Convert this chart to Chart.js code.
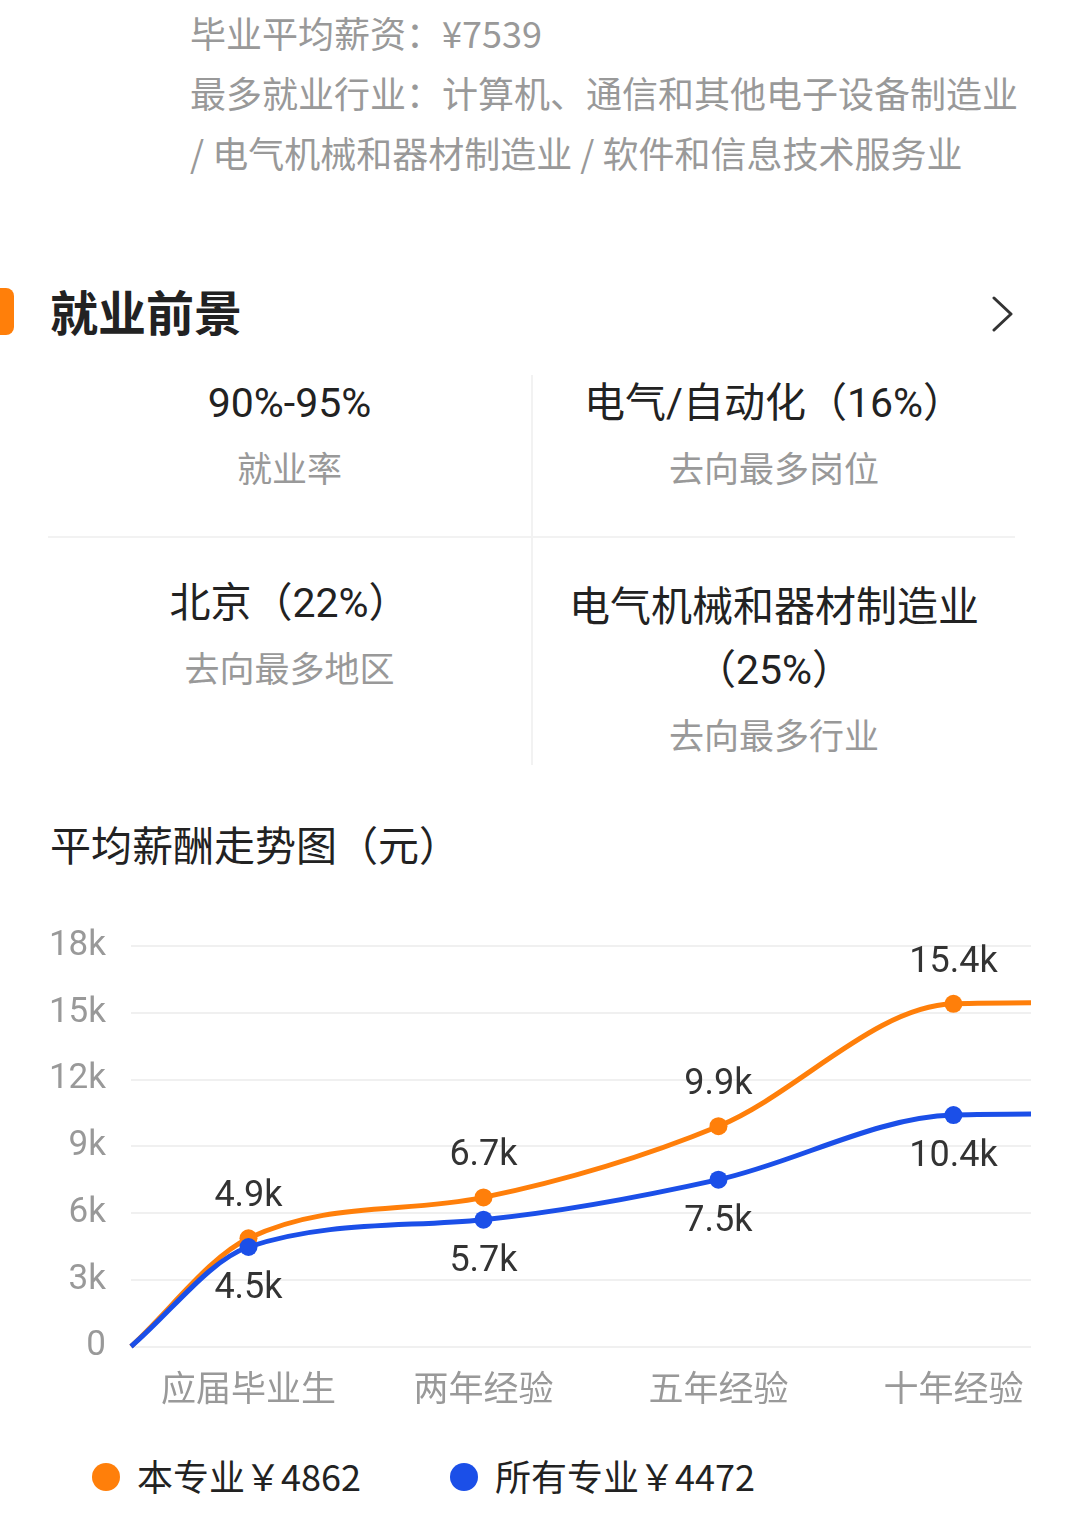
<!DOCTYPE html>
<html lang="zh-CN">
<head>
<meta charset="utf-8">
<script src="https://cdn.jsdelivr.net/npm/chart.js@4.4.1/dist/chart.umd.min.js"></script>
<style>
  html, body { margin: 0; padding: 0; background: #fff; }
  body { width: 1080px; height: 1528px; position: relative; overflow: hidden;
         font-family: "Noto Sans CJK SC", "Noto Sans", sans-serif; }
  .t { position: absolute; white-space: nowrap; line-height: 1; transform: translateY(-50%); }
  .c { text-align: center; }
  .gray { color: #999; }
  .dark { color: #222; }
  .num { font-family: Roboto, "Noto Sans CJK SC", sans-serif; }
  #chartBox { position: absolute; left: 0; top: 900px; width: 1080px; height: 540px; }
  .legend { position: absolute; top: 1475px; transform: translateY(-50%); display: flex; align-items: center;
            font-size: 36px; color: #222; line-height: 1; }
  .legend .dot { width: 28px; height: 28px; border-radius: 50%; margin-right: 17px; margin-top: 3px; }
</style>
</head>
<body>
<div class="t gray" style="left:190px; top:32px; font-size:36px;">毕业平均薪资：¥7539</div>
<div class="t gray" style="left:190px; top:92px; font-size:36px;">最多就业行业：计算机、通信和其他电子设备制造业</div>
<div class="t gray" style="left:190px; top:152px; font-size:36px;">/ 电气机械和器材制造业 / 软件和信息技术服务业</div>

<div style="position:absolute; left:0; top:288px; width:14px; height:47px; background:#FF7F0A; border-radius:0 8px 8px 0;"></div>
<div class="t dark" style="left:50px; top:310px; font-size:48px; font-weight:bold;">就业前景</div>
<svg style="position:absolute; left:991px; top:296px;" width="24" height="36" viewBox="0 0 24 36">
  <polyline points="3,2 20,18 3,34" fill="none" stroke="#333" stroke-width="3" stroke-linejoin="round" stroke-linecap="round"/>
</svg>

<div style="position:absolute; left:531px; top:375px; width:2px; height:390px; background:#f2f2f2;"></div>
<div style="position:absolute; left:48px; top:536px; width:967px; height:2px; background:#f2f2f2;"></div>

<div class="t dark c num" style="left:48px; width:483px; top:403px; font-size:41px;">90%-95%</div>
<div class="t gray c" style="left:48px; width:483px; top:466px; font-size:35px;">就业率</div>
<div class="t dark c num" style="left:533px; width:482px; top:403px; font-size:41px;">电气/自动化（16%）</div>
<div class="t gray c" style="left:533px; width:482px; top:466px; font-size:35px;">去向最多岗位</div>
<div class="t dark c num" style="left:48px; width:483px; top:603px; font-size:41px;">北京（22%）</div>
<div class="t gray c" style="left:48px; width:483px; top:666px; font-size:35px;">去向最多地区</div>
<div class="t dark c" style="left:533px; width:482px; top:603px; font-size:41px;">电气机械和器材制造业</div>
<div class="t dark c num" style="left:533px; width:482px; top:670px; font-size:41px;">（25%）</div>
<div class="t gray c" style="left:533px; width:482px; top:733px; font-size:35px;">去向最多行业</div>

<div class="t dark" style="left:50px; top:843px; font-size:41px;">平均薪酬走势图（元）</div>

<div id="chartBox"><canvas id="chart" width="1080" height="540"></canvas></div>
<div id="legend"></div>

<script>
// ---- data ----
const categories = ['应届毕业生', '两年经验', '五年经验', '十年经验'];
const xPositions = [-0.5, 0, 1, 2, 3, 3.5];          // lead-in point, categories, tail
const majorSalary = [0, 4862, 6700, 9900, 15400, 15450];
const allSalary   = [0, 4472, 5700, 7500, 10400, 10450];
const labelled    = [false, true, true, true, true, false];
const seriesNames = ['本专业', '所有专业'];
const legendValues = [4862, 4472];
const seriesColors = ['#FF7F0A', '#1B4FE8'];
const yTickValues = [0, 3000, 6000, 9000, 12000, 15000, 18000];
const yTickLabels = ['0', '3k', '6k', '9k', '12k', '15k', '18k'];
const X_MIN = -0.5, X_MAX = 3.33;

const toPoints = arr => arr.map((v, i) => ({ x: xPositions[i], y: v }));

const valueLabelPlugin = {
  id: 'valueLabels',
  afterDatasetsDraw(chart) {
    const ctx = chart.ctx;
    ctx.save();
    ctx.font = '36px Roboto, "Noto Sans", sans-serif';
    ctx.fillStyle = '#333';
    ctx.textAlign = 'center';
    ctx.textBaseline = 'middle';
    chart.data.datasets.forEach((ds, di) => {
      const meta = chart.getDatasetMeta(di);
      meta.data.forEach((pt, i) => {
        if (!labelled[i]) return;
        const v = ds.data[i].y;
        const txt = (v / 1000).toFixed(1) + 'k';
        const dy = ds.labelSide === 'above' ? -41 : 42;
        ctx.fillText(txt, pt.x, pt.y + dy);
      });
    });
    ctx.restore();
  }
};

const mkDataset = (name, values, color, side, order) => ({
  label: name,
  data: toPoints(values),
  borderColor: color,
  backgroundColor: color,
  borderWidth: 5,
  cubicInterpolationMode: 'monotone',
  pointRadius: ctx => labelled[ctx.dataIndex] ? 9 : 0,
  pointBorderWidth: 0,
  pointBackgroundColor: color,
  fill: false,
  clip: { left: 5, top: 5, right: 0, bottom: 5 },
  labelSide: side,
  order: order
});

new Chart(document.getElementById('chart'), {
  type: 'line',
  data: {
    datasets: [
      mkDataset(seriesNames[0], majorSalary, seriesColors[0], 'above', 1),
      mkDataset(seriesNames[1], allSalary, seriesColors[1], 'below', 0)
    ]
  },
  options: {
    responsive: false,
    animation: false,
    layout: { padding: { top: 40, right: 49, left: 0, bottom: 0 } },
    plugins: { legend: { display: false }, tooltip: { enabled: false } },
    scales: {
      x: {
        type: 'linear',
        min: X_MIN,
        max: X_MAX,
        grid: { display: false },
        border: { display: false },
        afterBuildTicks: axis => { axis.ticks = categories.map((c, i) => ({ value: i })); },
        afterFit: s => { s.height = 93.5; },
        ticks: {
          autoSkip: false,
          maxRotation: 0,
          padding: 12,
          color: '#999',
          font: { family: '"Noto Sans CJK SC", sans-serif', size: 35 },
          callback: v => categories[v] !== undefined ? categories[v] : ''
        }
      },
      y: {
        min: yTickValues[0],
        max: yTickValues[yTickValues.length - 1],
        afterBuildTicks: axis => { axis.ticks = yTickValues.map(v => ({ value: v })); },
        afterFit: s => { s.width = 131; },
        grid: { color: '#f0f0f0', lineWidth: 2, drawTicks: false },
        border: { display: false },
        ticks: {
          padding: 25,
          color: '#999',
          font: { family: 'Roboto, "Noto Sans", sans-serif', size: 35 },
          callback: v => yTickLabels[yTickValues.indexOf(v)]
        }
      }
    }
  },
  plugins: [valueLabelPlugin]
});

// ---- legend ----
const legendLefts = [92, 450];
const legendEl = document.getElementById('legend');
seriesNames.forEach((name, i) => {
  const item = document.createElement('div');
  item.className = 'legend';
  item.style.left = legendLefts[i] + 'px';
  item.innerHTML = '<span class="dot" style="background:' + seriesColors[i] + '"></span><span>' +
    name + '￥' + legendValues[i] + '</span>';
  legendEl.appendChild(item);
});
</script>
</body>
</html>
